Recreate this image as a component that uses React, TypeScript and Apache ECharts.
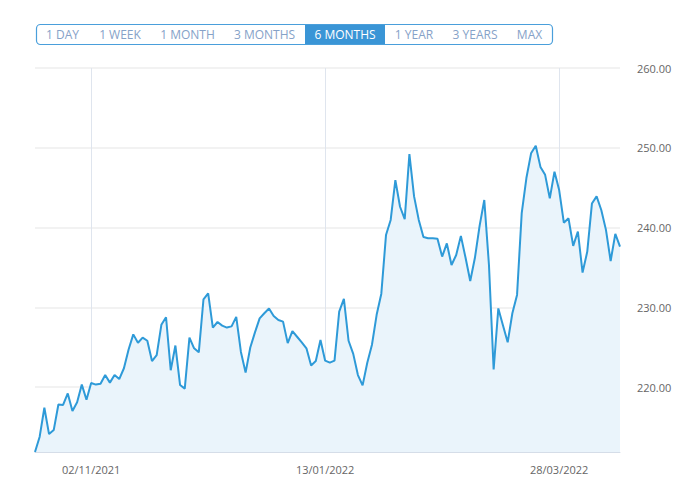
import React, { useEffect, useRef } from "react";
import * as echarts from "echarts";

const startDate = "2021-10-15";
const holidays = ["2021-11-25", "2021-12-24", "2022-01-17", "2022-02-21"];
const tickLabels = ["02/11/2021", "13/01/2022", "28/03/2022"];
const ranges = ["1 DAY", "1 WEEK", "1 MONTH", "3 MONTHS", "6 MONTHS", "1 YEAR", "3 YEARS", "MAX"];
const rangeCenters = [62.5, 120, 187.5, 264.5, 345, 414, 475, 529.5];
const selectedRange = "6 MONTHS";

const prices = [
  211.85, 213.77, 217.4, 214.1, 214.6, 217.8, 217.75, 219.2, 217.0, 218.1,
  220.3, 218.4, 220.5, 220.3, 220.4, 221.5, 220.55, 221.5, 221.0, 222.35,
  224.7, 226.6, 225.55, 226.2, 225.8, 223.25, 224.0, 227.8, 228.75, 222.1,
  225.2, 220.25, 219.8, 226.2, 224.85, 224.35, 231.0, 231.75, 227.45, 228.15,
  227.7, 227.45, 227.6, 228.8, 224.4, 221.8, 224.95, 226.85, 228.6, 229.25,
  229.85, 228.9, 228.4, 228.2, 225.5, 227.0, 226.3, 225.6, 224.85, 222.7,
  223.25, 225.9, 223.3, 223.05, 223.3, 229.45, 231.05, 225.8, 224.15, 221.5,
  220.2, 223.05, 225.3, 229.05, 231.7, 239.05, 240.95, 245.95, 242.6, 241.05,
  249.2, 243.9, 240.95, 238.8, 238.65, 238.65, 238.6, 236.35, 238.0, 235.3,
  236.55, 238.95, 236.2, 233.3, 236.2, 240.2, 243.45, 235.3, 222.2, 229.85,
  227.7, 225.6, 229.25, 231.55, 241.8, 246.2, 249.3, 250.25, 247.6, 246.6,
  243.65, 247.0, 244.7, 240.6, 241.15, 237.7, 239.5, 234.35, 236.95, 243.0,
  243.9, 242.2, 239.7, 235.8, 239.2, 237.6,
];

function tradingDates(start: string, count: number, skip: string[]): string[] {
  const out: string[] = [];
  const d = new Date(start + "T12:00:00Z");
  while (out.length < count) {
    const iso = d.toISOString().slice(0, 10);
    const wd = d.getUTCDay();
    if (wd !== 0 && wd !== 6 && !skip.includes(iso)) {
      const [y, m, dd] = iso.split("-");
      out.push(`${dd}/${m}/${y}`);
    }
    d.setUTCDate(d.getUTCDate() + 1);
  }
  return out;
}

const dates = tradingDates(startDate, prices.length, holidays);

const FONT = "'Open Sans', sans-serif";

export default function App() {
  const ref = useRef<HTMLDivElement>(null);
  useEffect(() => {
    if (!ref.current) return;
    const chart = echarts.init(ref.current, undefined, { renderer: "svg" });
    const graphics: any[] = [
      {
        type: "rect",
        shape: { x: 36.5, y: 24.5, width: 516, height: 20, r: 4 },
        style: { fill: "#fff", stroke: "#4a9fdb", lineWidth: 1.2 },
        z: 10,
      },
    ];
    ranges.forEach((r, i) => {
      const sel = r === selectedRange;
      if (sel) {
        graphics.push({
          type: "rect",
          shape: { x: rangeCenters[i] - 40, y: 25, width: 80, height: 19 },
          style: { fill: "#3a95d6" },
          z: 11,
        });
      }
      graphics.push({
        type: "text",
        x: rangeCenters[i],
        y: 34.5,
        style: {
          text: r,
          fill: sel ? "#ffffff" : "#86a2c8",
          font: `12px ${FONT}`,
          textAlign: "center",
          textVerticalAlign: "middle",
        },
        z: 12,
      });
    });

    chart.setOption({
      animation: false,
      grid: { left: 35, right: 74, top: 68, bottom: 31, containLabel: false },
      graphic: graphics,
      xAxis: {
        type: "category",
        data: dates,
        boundaryGap: false,
        axisTick: { show: false },
        axisLine: { show: true, lineStyle: { color: "#d5dde8", width: 1 } },
        axisLabel: {
          interval: (idx: number, val: string) => tickLabels.includes(val),
          color: "#666",
          fontFamily: FONT,
          fontSize: 11,
          margin: 12,
        },
        splitLine: {
          show: true,
          interval: (idx: number, val: string) => tickLabels.includes(val),
          lineStyle: { color: "#dfe5ee", width: 1 },
        },
      },
      yAxis: {
        type: "value",
        position: "right",
        min: (v: any) => v.min,
        max: 260,
        splitNumber: 5,
        axisLine: { show: false },
        axisTick: { show: false },
        axisLabel: {
          showMinLabel: false,
          formatter: (v: number) => v.toFixed(2),
          color: "#666",
          fontFamily: FONT,
          fontSize: 11,
          margin: 17,
        },
        splitLine: { show: true, lineStyle: { color: "#eeeeee", width: 1.5 } },
      },
      series: [
        {
          type: "line",
          data: prices,
          symbol: "none",
          lineStyle: { color: "#2e9ad8", width: 2 },
          areaStyle: { color: "#eaf4fb", opacity: 1 },
          z: 3,
        },
      ],
    });
    return () => chart.dispose();
  }, []);
  return (
    <div
      ref={ref}
      style={{ position: "absolute", left: 0, top: 0, width: 694, height: 483, background: "#fff" }}
    />
  );
}
